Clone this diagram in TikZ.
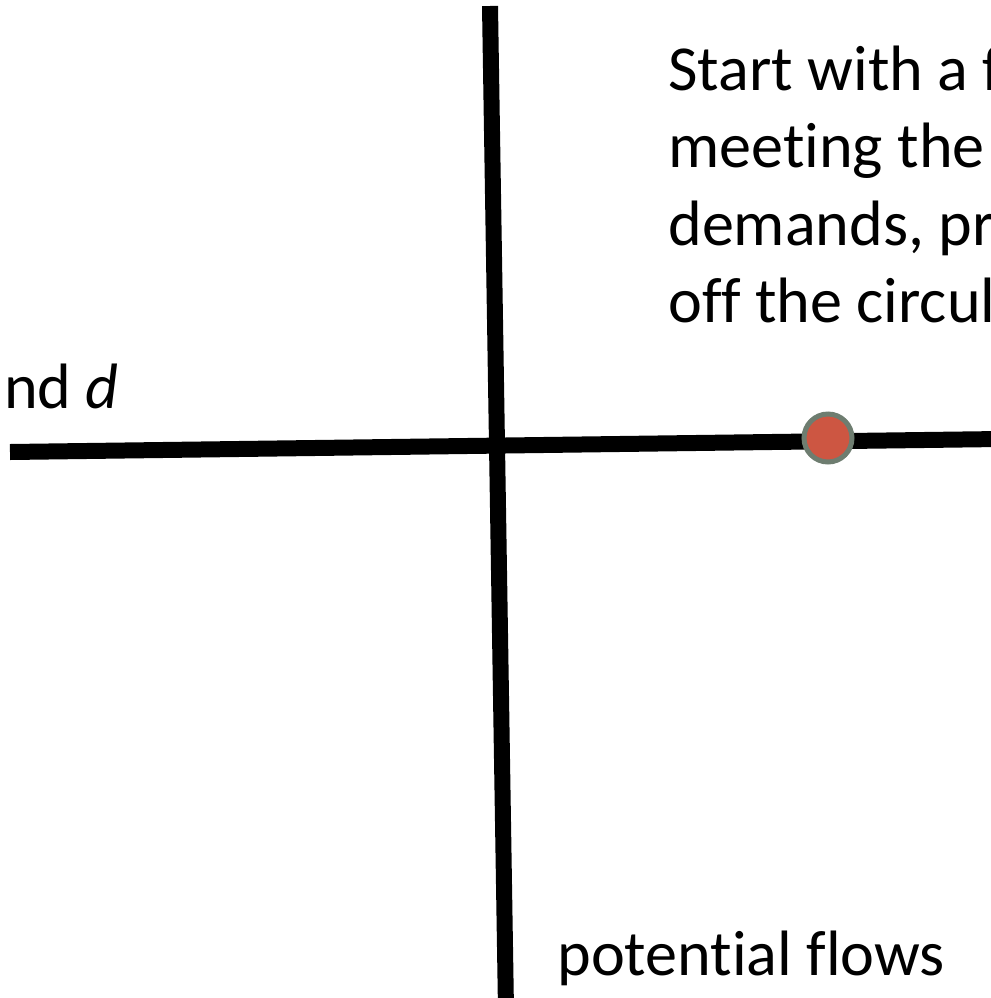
\documentclass[tikz,border=0pt]{standalone}
\usepackage{fontspec}
\setmainfont[Ligatures=NoCommon]{Carlito}
\usepackage{tikz}
\usetikzlibrary{positioning}
\definecolor{flowRed}{HTML}{CD5642}
\definecolor{flowRim}{HTML}{6E7D70}
\tikzset{
  axis/.style={
    line width=0.32cm,
    draw=black
  },
  flowdot/.style={
    circle,
    draw=flowRim,
    fill=flowRed,
    line width=0.1cm,
    minimum size=0.96cm,
    inner sep=0pt
  },
  slidetext/.style={
    inner sep=0pt,
    anchor=base west,
    font=\fontsize{36.5}{44}\selectfont
  }
}
\begin{document}
\begin{tikzpicture}[x=0.02cm,y=-0.02cm]
  \path[use as bounding box,clip] (0,0) rectangle (991,998);
  \coordinate (ytop) at (490,6);
  \coordinate (ybot) at (506,1010);
  \coordinate (xleft) at (10,452);
  \coordinate (xright) at (1000,439);
  \draw[axis] (ytop) -- (ybot);
  \draw[axis] (xleft) -- (xright);
  \node[flowdot] (feasible) at (828,438) {};
  \node[slidetext] (line1) at (668,90) {Start with a f};
  \node[slidetext] (line2) at (668,167) {meeting the};
  \node[slidetext] (line3) at (668,245) {demands, pr};
  \node[slidetext] (line4) at (668,322) {off the circul};
  \node[slidetext] (demand) at (-27,408) {and \textit{d}};
  \node[slidetext] (flows) at (557,975) {potential flows};
\end{tikzpicture}
\end{document}
